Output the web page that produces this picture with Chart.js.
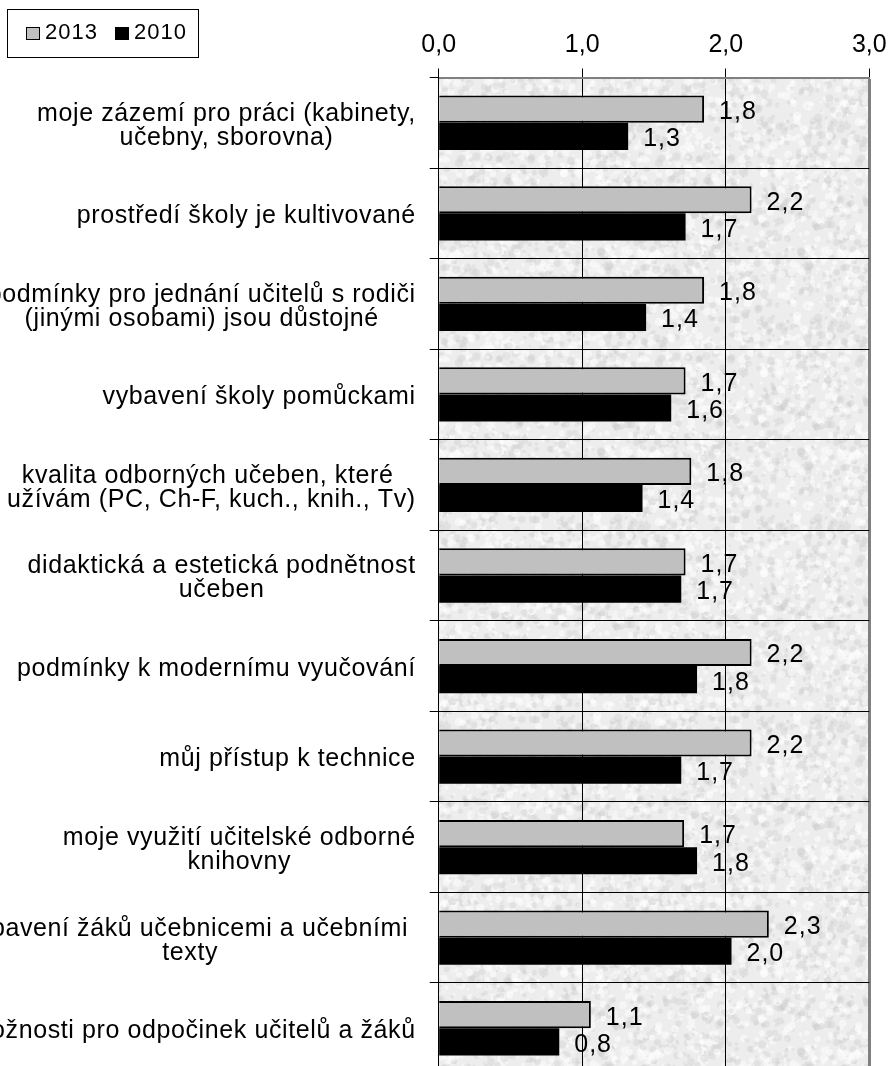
<!DOCTYPE html>
<html>
<head>
<meta charset="utf-8">
<script src="https://cdn.jsdelivr.net/npm/chart.js@4/dist/chart.umd.min.js"></script>
<style>
  html, body { margin: 0; padding: 0; background: #fff; overflow: hidden; }
  #wrap { position: relative; width: 890px; height: 1080px; }
</style>
</head>
<body>
<div id="wrap"><canvas id="c" width="890" height="1080"></canvas></div>
<script>
const categories = [
  ["moje zázemí pro práci (kabinety,", "učebny, sborovna)"],
  ["prostředí školy je kultivované"],
  ["podmínky pro jednání učitelů s rodiči", "(jinými osobami) jsou důstojné"],
  ["vybavení školy pomůckami"],
  ["kvalita odborných učeben, které ", "užívám (PC, Ch-F, kuch., knih., Tv)"],
  ["didaktická a estetická podnětnost", "učeben"],
  ["podmínky k modernímu vyučování"],
  ["můj přístup k technice"],
  ["moje využití učitelské odborné", "knihovny"],
  ["vybavení žáků učebnicemi a učebními ", "texty"],
  ["možnosti pro odpočinek učitelů a žáků"]
];
const seriesNames = ["2013", "2010"];
const values2013 = [1.849, 2.18, 1.849, 1.72, 1.76, 1.72, 2.18, 2.18, 1.71, 2.30, 1.06];
const values2010 = [1.32, 1.72, 1.445, 1.62, 1.42, 1.69, 1.80, 1.69, 1.80, 2.04, 0.84];
const xMin = 0, xMax = 3, xStep = 1;

const FONT = "'Liberation Sans', Arial, sans-serif";
const fmt = v => v.toFixed(1).replace('.', ',');

function makeTexture() {
  const N = 200;
  const c = document.createElement('canvas');
  c.width = N; c.height = N;
  const g = c.getContext('2d');
  g.fillStyle = '#ededed';
  g.fillRect(0, 0, N, N);
  let s = 24681357;
  const rnd = () => { s = (s * 1103515245 + 12345) & 0x7fffffff; return s / 0x7fffffff; };
  const blob = (x, y, r) => {
    for (const dx of [-N, 0, N]) for (const dy of [-N, 0, N]) {
      g.beginPath(); g.arc(x + dx, y + dy, r, 0, Math.PI * 2); g.fill();
    }
  };
  for (let i = 0; i < 1200; i++) {
    const x = rnd() * N, y = rnd() * N, r = 1 + rnd() * 3.2, v = rnd();
    g.fillStyle = v < 0.38 ? 'rgba(200,200,200,0.33)' : (v < 0.48 ? 'rgba(215,215,215,0.5)' : 'rgba(253,253,253,0.55)');
    blob(x, y, r);
  }
  return c;
}

const bgPlugin = {
  id: 'bgTexture',
  beforeDraw(chart) {
    const { ctx, chartArea: a } = chart;
    ctx.save();
    ctx.fillStyle = ctx.createPattern(makeTexture(), 'repeat');
    ctx.fillRect(a.left, a.top, a.right - a.left, a.bottom - a.top);
    ctx.restore();
  }
};

const catLabelPlugin = {
  id: 'catLabels',
  afterDraw(chart) {
    const { ctx } = chart;
    const ys = chart.scales.y;
    const right = ys.right - 9 - 14;
    ctx.save();
    ctx.font = '25px ' + FONT;
    ctx.letterSpacing = '0.6px';
    ctx.fillStyle = '#000';
    ctx.textAlign = 'center';
    ctx.textBaseline = 'middle';
    chart.data.labels.forEach((lines, i) => {
      const cy = ys.getPixelForValue(i);
      const maxW = Math.max(...lines.map(l => ctx.measureText(l).width));
      const cx = right - maxW / 2;
      const lh = 24;
      const y0 = cy - (lines.length - 1) * lh / 2 + 3;
      lines.forEach((l, k) => ctx.fillText(l, cx, y0 + k * lh));
    });
    ctx.restore();
  }
};

const dataLabelPlugin = {
  id: 'dataLabels',
  afterDatasetsDraw(chart) {
    const { ctx } = chart;
    ctx.save();
    ctx.font = '25px ' + FONT;
    ctx.letterSpacing = '1px';
    ctx.fillStyle = '#000';
    ctx.textAlign = 'left';
    ctx.textBaseline = 'middle';
    chart.data.datasets.forEach((ds, di) => {
      const meta = chart.getDatasetMeta(di);
      meta.data.forEach((el, i) => {
        ctx.fillText(fmt(ds.data[i]), el.x + 15, el.y + 3);
      });
    });
    ctx.restore();
  }
};

const legendPlugin = {
  id: 'boxLegend',
  afterDraw(chart) {
    const { ctx } = chart;
    ctx.save();
    ctx.fillStyle = '#fff';
    ctx.fillRect(7.5, 9.5, 191, 48);
    ctx.strokeStyle = '#000';
    ctx.lineWidth = 1;
    ctx.strokeRect(7.5, 9.5, 191, 48);
    ctx.font = '22px ' + FONT;
    ctx.letterSpacing = '1px';
    ctx.textBaseline = 'middle';
    ctx.textAlign = 'left';
    const xs = [26, 115];
    chart.data.datasets.forEach((ds, i) => {
      const x = xs[i];
      ctx.fillStyle = ds.backgroundColor;
      ctx.fillRect(x + 0.5, 27.5, 13, 12);
      ctx.strokeStyle = '#000';
      ctx.strokeRect(x + 0.5, 27.5, 13, 12);
      ctx.fillStyle = '#000';
      ctx.fillText(ds.label, x + 19, 33);
    });
    ctx.restore();
  }
};

new Chart(document.getElementById('c'), {
  type: 'bar',
  data: {
    labels: categories,
    datasets: [
      { label: seriesNames[0], data: values2013, backgroundColor: '#c0c0c0', borderColor: '#000', borderWidth: 2, borderSkipped: 'start', barPercentage: 1.0, categoryPercentage: 0.6 },
      { label: seriesNames[1], data: values2010, backgroundColor: '#000000', borderColor: '#000', borderWidth: 0, barPercentage: 1.0, categoryPercentage: 0.6 }
    ]
  },
  options: {
    indexAxis: 'y',
    responsive: false,
    animation: false,
    devicePixelRatio: 1,
    layout: { padding: { left: 0, right: 20.7, top: 0, bottom: 6.5 } },
    plugins: { legend: { display: false }, tooltip: { enabled: false }, title: { display: false } },
    scales: {
      x: {
        position: 'top',
        min: xMin, max: xMax,
        afterFit(s) { s.height = 77.5; s.paddingLeft = 0; s.paddingRight = 0; },
        ticks: {
          stepSize: xStep,
          callback: v => fmt(v),
          color: '#000',
          font: { family: FONT, size: 25 },
          padding: 8,
          maxRotation: 0
        },
        grid: {
          color: c => (c.tick && c.tick.value === xMax) ? '#808080' : '#000',
          lineWidth: c => (c.tick && c.tick.value === xMax) ? 3 : 1,
          tickColor: '#000',
          tickWidth: 1,
          tickLength: 9,
          drawTicks: true
        },
        border: { display: true, color: '#808080', width: 2 }
      },
      y: {
        position: 'left',
        afterFit(s) { s.width = 438.7; s.paddingTop = 0; s.paddingBottom = 0; },
        ticks: { display: false },
        grid: {
          offset: true,
          color: '#000',
          lineWidth: 1,
          tickColor: '#000',
          tickLength: 9,
          drawTicks: true
        },
        border: { display: true, color: '#000', width: 1 }
      }
    }
  },
  plugins: [bgPlugin, dataLabelPlugin, catLabelPlugin, legendPlugin]
});
</script>
</body>
</html>
